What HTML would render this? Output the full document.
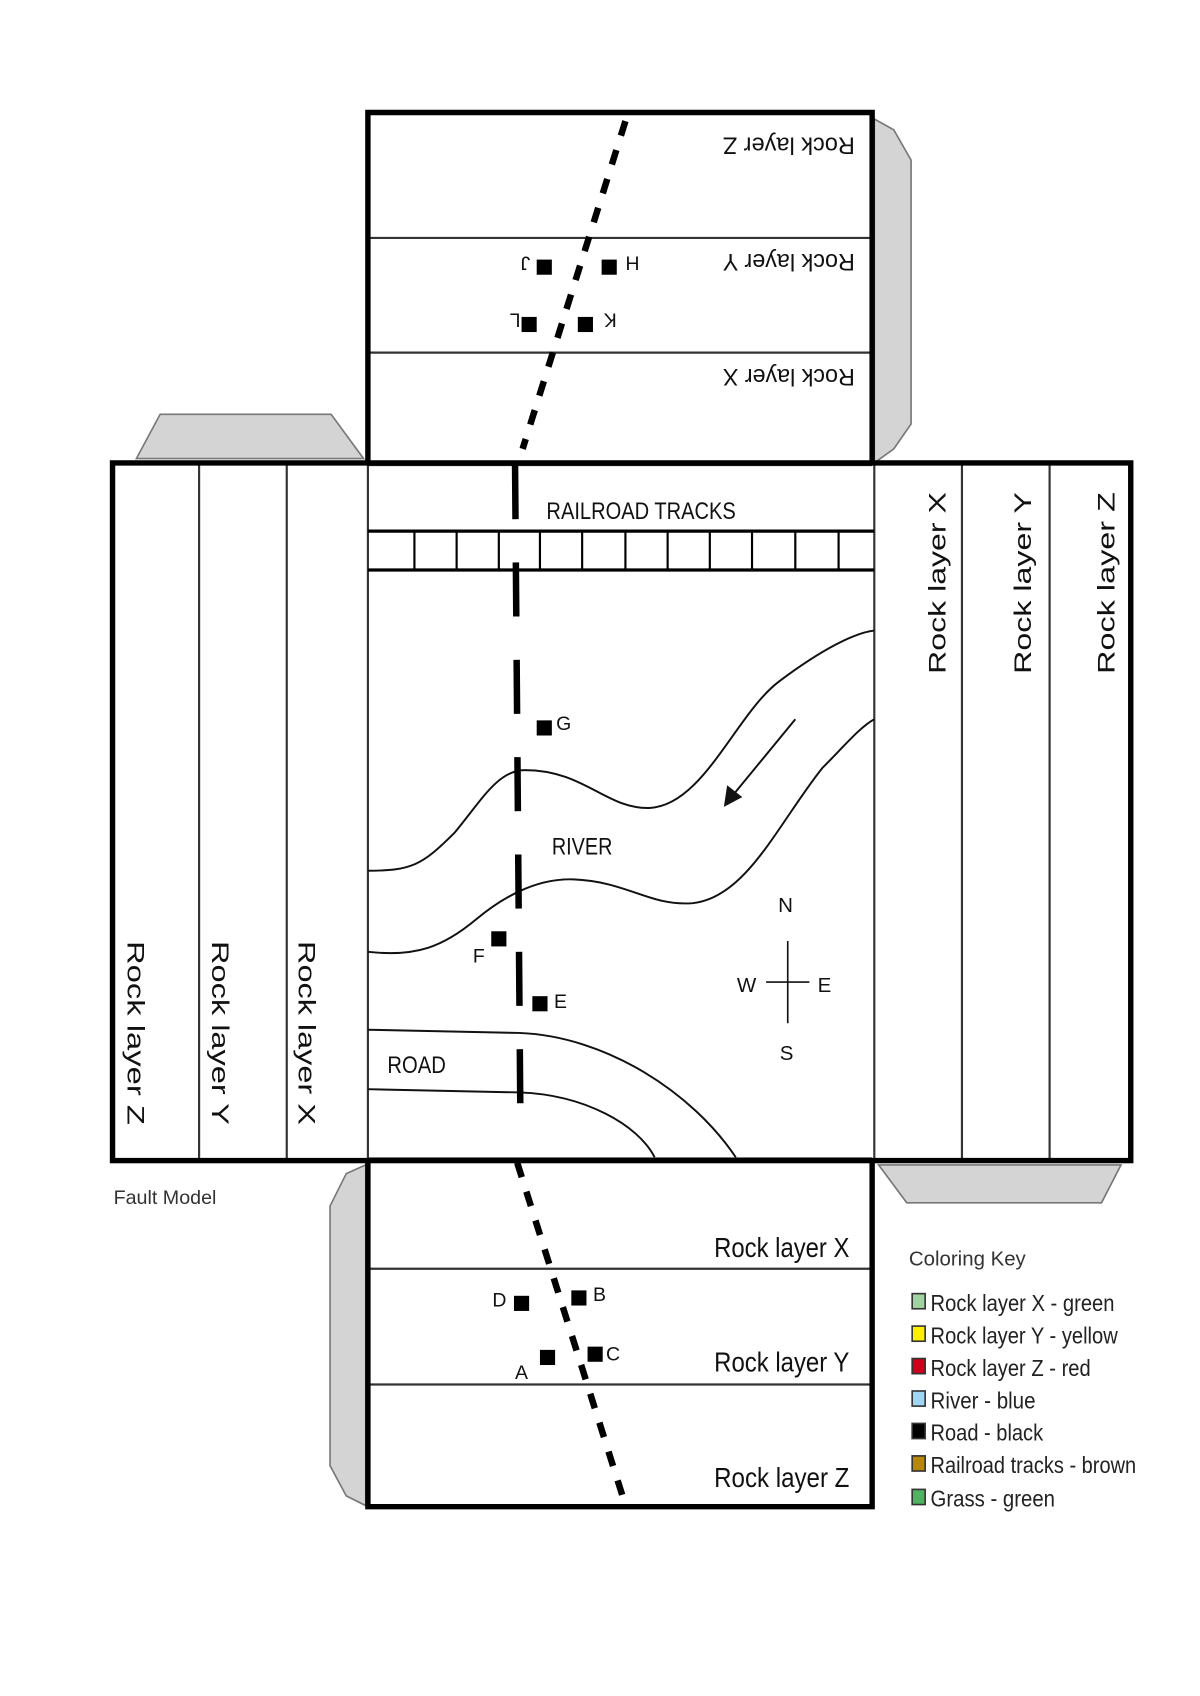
<!DOCTYPE html>
<html><head><meta charset="utf-8"><style>html,body{margin:0;padding:0;background:#fff}svg{display:block}</style></head>
<body>
<svg width="1200" height="1696" viewBox="0 0 1109 1568" preserveAspectRatio="none" xmlns="http://www.w3.org/2000/svg" font-family="Liberation Sans, sans-serif">
<rect width="1109" height="1568" fill="#fff"/>
<g fill="#d4d4d4" stroke="#777" stroke-width="1.5">
<polygon points="126,424 148,383 306,383 336,424"/>
<polygon points="808,110 826,120 842,148 842,392 826,415 808,428"/>
<polygon points="812,1077 1036,1077 1018,1112 838,1112"/>
<polygon points="338,1077 320,1085 305,1115 305,1355 320,1383 338,1392"/>
</g>
<g stroke="#333" stroke-width="2" fill="none">
<line x1="340" y1="220" x2="806" y2="220"/>
<line x1="340" y1="326" x2="806" y2="326"/>
<line x1="184" y1="430" x2="184" y2="1071"/>
<line x1="265" y1="430" x2="265" y2="1071"/>
<line x1="340" y1="430" x2="340" y2="1071"/>
<line x1="808" y1="430" x2="808" y2="1071"/>
<line x1="889" y1="430" x2="889" y2="1071"/>
<line x1="970" y1="430" x2="970" y2="1071"/>
<line x1="340" y1="1173" x2="806" y2="1173"/>
<line x1="340" y1="1280" x2="806" y2="1280"/>
<line x1="340" y1="430" x2="806" y2="430"/>
<line x1="340" y1="1071" x2="806" y2="1071"/>
</g>
<g stroke="#000" stroke-width="3" fill="none">
<line x1="340" y1="491" x2="808" y2="491"/>
<line x1="340" y1="527" x2="808" y2="527"/>
</g>
<g stroke="#000" stroke-width="2">
<line x1="383" y1="491" x2="383" y2="527"/><line x1="422" y1="491" x2="422" y2="527"/>
<line x1="461" y1="491" x2="461" y2="527"/><line x1="499" y1="491" x2="499" y2="527"/>
<line x1="538" y1="491" x2="538" y2="527"/><line x1="578" y1="491" x2="578" y2="527"/>
<line x1="617" y1="491" x2="617" y2="527"/><line x1="656" y1="491" x2="656" y2="527"/>
<line x1="695" y1="491" x2="695" y2="527"/><line x1="735" y1="491" x2="735" y2="527"/>
<line x1="775" y1="491" x2="775" y2="527"/>
</g>
<g stroke="#000" stroke-width="5" fill="none">
<polyline points="340,428 340,104 806,104 806,428"/>
<rect x="104" y="428" width="941" height="645"/>
<polyline points="340,1073 340,1393 806,1393 806,1073"/>
</g>
<g stroke="#111" stroke-width="1.8" fill="none">
<path d="M340,805 C380,805 390,800 420,770 C445,740 460,712 485,712 C540,712 560,748 600,747 C650,745 680,660 720,630 C760,600 790,585 808,583"/>
<path d="M340,880 C385,885 410,875 440,850 C470,825 500,812 530,813 C580,815 600,838 640,835 C690,830 720,760 760,710 C780,690 795,672 808,665"/>
<path d="M340,952 L480,955 C560,958 640,1010 680,1070"/>
<path d="M340,1007 L480,1010 C540,1012 590,1040 605,1070"/>
<line x1="735" y1="665" x2="675" y2="738"/>
</g>
<polygon points="669,746 672,726 686,737" fill="#111"/>
<g stroke="#111" stroke-width="1.5"><line x1="728" y1="870" x2="728" y2="946"/><line x1="708" y1="908" x2="748" y2="908"/></g>
<g font-size="19" fill="#111" text-anchor="middle">
<text x="726" y="843">N</text><text x="690" y="917">W</text><text x="762" y="917">E</text><text x="727" y="980">S</text>
</g>
<g stroke="#000" stroke-width="6" fill="none">
<line x1="578" y1="112" x2="483" y2="415" stroke-dasharray="14,14"/>
<line x1="476" y1="430" x2="481" y2="1045" stroke-dasharray="50,40"/>
<line x1="478" y1="1075" x2="575" y2="1382" stroke-dasharray="14,14"/>
</g>
<g fill="#000">
<rect x="496" y="240" width="14" height="14"/><rect x="556" y="240" width="14" height="14"/>
<rect x="482" y="293" width="14" height="14"/><rect x="534" y="293" width="14" height="14"/>
<rect x="496" y="666" width="14" height="14"/><rect x="454" y="861" width="14" height="14"/>
<rect x="492" y="921" width="14" height="14"/><rect x="475" y="1198" width="14" height="14"/>
<rect x="528" y="1193" width="14" height="14"/><rect x="499" y="1248" width="14" height="14"/>
<rect x="543" y="1245" width="14" height="14"/>
</g>
<g font-size="18" fill="#111">
<text transform="translate(591,237) rotate(180)">H</text>
<text transform="translate(490,237) rotate(180)">J</text>
<text transform="translate(570,290) rotate(180)">K</text>
<text transform="translate(481,290) rotate(180)">L</text>
<text x="514" y="675">G</text><text x="437" y="890">F</text><text x="512" y="932">E</text>
<text x="455" y="1208">D</text><text x="548" y="1203">B</text><text x="476" y="1275">A</text><text x="560" y="1258">C</text>
</g>
<g font-size="22" fill="#111">
<text x="505" y="480" textLength="175" lengthAdjust="spacingAndGlyphs">RAILROAD TRACKS</text>
<text x="510" y="790" textLength="56" lengthAdjust="spacingAndGlyphs">RIVER</text>
<text x="358" y="992" textLength="54" lengthAdjust="spacingAndGlyphs">ROAD</text>
</g>
<g font-size="22" fill="#111">
<text transform="translate(790,127) rotate(180)" textLength="122" lengthAdjust="spacingAndGlyphs">Rock layer Z</text>
<text transform="translate(790,235) rotate(180)" textLength="122" lengthAdjust="spacingAndGlyphs">Rock layer Y</text>
<text transform="translate(790,341) rotate(180)" textLength="122" lengthAdjust="spacingAndGlyphs">Rock layer X</text>
<text transform="translate(118,870) rotate(90)" textLength="170" lengthAdjust="spacingAndGlyphs">Rock layer Z</text>
<text transform="translate(196,870) rotate(90)" textLength="170" lengthAdjust="spacingAndGlyphs">Rock layer Y</text>
<text transform="translate(276,870) rotate(90)" textLength="170" lengthAdjust="spacingAndGlyphs">Rock layer X</text>
<text transform="translate(874,623) rotate(-90)" textLength="168" lengthAdjust="spacingAndGlyphs">Rock layer X</text>
<text transform="translate(953,623) rotate(-90)" textLength="168" lengthAdjust="spacingAndGlyphs">Rock layer Y</text>
<text transform="translate(1030,623) rotate(-90)" textLength="168" lengthAdjust="spacingAndGlyphs">Rock layer Z</text>
</g>
<g font-size="26" fill="#111">
<text x="660" y="1162" textLength="125" lengthAdjust="spacingAndGlyphs">Rock layer X</text>
<text x="660" y="1268" textLength="125" lengthAdjust="spacingAndGlyphs">Rock layer Y</text>
<text x="660" y="1375" textLength="125" lengthAdjust="spacingAndGlyphs">Rock layer Z</text>
</g>
<text x="105" y="1113" font-size="18" fill="#333" textLength="95" lengthAdjust="spacingAndGlyphs">Fault Model</text>
<text x="840" y="1170" font-size="19" fill="#333" textLength="108" lengthAdjust="spacingAndGlyphs">Coloring Key</text>
<g stroke="#333" stroke-width="1.5">
<rect x="843" y="1196" width="12" height="14" fill="#9fd39f"/>
<rect x="843" y="1226" width="12" height="14" fill="#ffee00"/>
<rect x="843" y="1256" width="12" height="14" fill="#d0001a"/>
<rect x="843" y="1286" width="12" height="14" fill="#9fd6f5"/>
<rect x="843" y="1316" width="12" height="14" fill="#000"/>
<rect x="843" y="1346" width="12" height="14" fill="#b8860b"/>
<rect x="843" y="1377" width="12" height="14" fill="#4fb35f"/>
</g>
<g font-size="21" fill="#222">
<text x="860" y="1212" textLength="170" lengthAdjust="spacingAndGlyphs">Rock layer X - green</text>
<text x="860" y="1242" textLength="173" lengthAdjust="spacingAndGlyphs">Rock layer Y - yellow</text>
<text x="860" y="1272" textLength="148" lengthAdjust="spacingAndGlyphs">Rock layer Z - red</text>
<text x="860" y="1302" textLength="97" lengthAdjust="spacingAndGlyphs">River - blue</text>
<text x="860" y="1332" textLength="104" lengthAdjust="spacingAndGlyphs">Road - black</text>
<text x="860" y="1362" textLength="190" lengthAdjust="spacingAndGlyphs">Railroad tracks - brown</text>
<text x="860" y="1393" textLength="115" lengthAdjust="spacingAndGlyphs">Grass - green</text>
</g>
</svg>
</body></html>
